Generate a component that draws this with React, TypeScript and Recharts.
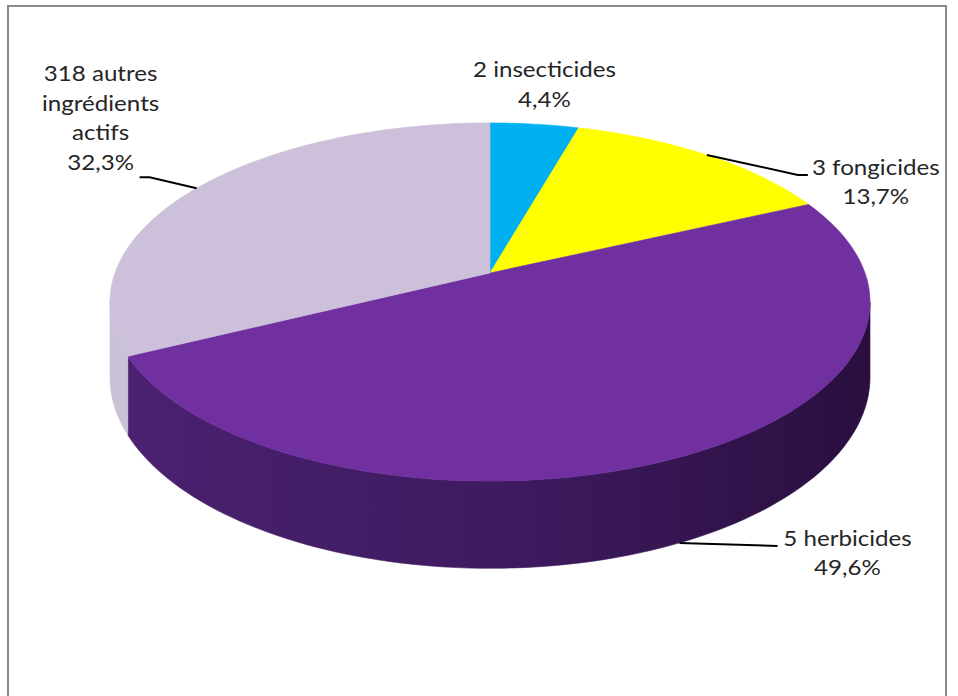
import React from 'react';
import { PieChart, Pie, Cell } from 'recharts';

const CATEGORIES = ['2 insecticides', '3 fongicides', '5 herbicides', '318 autres ingrédients actifs'];
const LABEL_LINES = [['2 insecticides'], ['3 fongicides'], ['5 herbicides'], ['318 autres', 'ingrédients', 'actifs']];
const SHARES = [4.4, 13.7, 49.6, 32.3];

const TOP_COLORS = ['#00B0F0', '#FFFF00', '#7030A0', '#CCC0DA'];
const SIDE_COLORS = [
  ['#0090c4', '#0090c4', '#006d95'],
  ['#cfcf00', '#cfcf00', '#a0a000'],
  ['#4b2171', '#3d1a5e', '#2a0f40'],
  ['#c9c1d6', '#c4bcd1', '#b5acc4'],
];

// fake perspective for the tilted disc
const TILT = 0.162;
const SQUASH = 0.465;
const DEPTH = 0.195;
const RIM = (Math.asin(TILT) * 180) / Math.PI;

// leader line points and text position, relative to the rim point at the slice middle
const LABEL_LAYOUT = [
  { line: [] as number[][], text: [10, -47] },
  { line: [[91, 20], [101, 20]], text: [169, 20] },
  { line: [[98, 3]], text: [168, 3] },
  { line: [[-47, -11], [-57, -11]], text: [-96, -107] },
];

const FONT = 'Lato, "Open Sans", sans-serif';
const FONT_SIZE = 21;
const STRETCH = 1.15;
const LINE_H = 29.5;

const rimPoint = (cx: number, cy: number, r: number, deg: number, drop = false) => {
  const t = (deg * Math.PI) / 180;
  const w = 1 + TILT * Math.sin(t);
  const x = cx + (r * Math.cos(t)) / w;
  const y = cy - (r * SQUASH * Math.sin(t)) / w + (drop ? (r * DEPTH) / w : 0);
  return [x, y];
};

const arcPoints = (cx: number, cy: number, r: number, from: number, to: number, drop = false) => {
  const n = Math.max(2, Math.ceil(Math.abs(from - to) / 1.5));
  const pts: number[][] = [];
  for (let i = 0; i <= n; i++) pts.push(rimPoint(cx, cy, r, from + ((to - from) * i) / n, drop));
  return pts;
};

const Slice3D = (props: any) => {
  const { cx, cy, outerRadius: r, startAngle, endAngle } = props;
  let idx = CATEGORIES.indexOf(props.payload?.name ?? props.name);
  if (idx < 0) idx = props.index ?? 0;
  const hi = Math.max(startAngle, endAngle);
  const lo = Math.min(startAngle, endAngle);

  const top = arcPoints(cx, cy, r, hi, lo);
  const topPath = `M${cx},${cy} ` + top.map((p) => `L${p[0].toFixed(1)},${p[1].toFixed(1)}`).join(' ') + ' Z';

  const sides: string[] = [];
  for (const shift of [-360, 0, 360]) {
    const a = Math.min(hi + shift, -RIM);
    const b = Math.max(lo + shift, -180 + RIM);
    if (a > b) {
      const upper = arcPoints(cx, cy, r, a, b);
      const lower = arcPoints(cx, cy, r, b, a, true);
      const pts = upper.concat(lower);
      sides.push('M' + pts.map((p) => `${p[0].toFixed(1)},${p[1].toFixed(1)}`).join(' L') + ' Z');
    }
  }
  const gid = `side-grad-${idx}`;
  const sc = SIDE_COLORS[idx];
  return (
    <g>
      <defs>
        <linearGradient id={gid} gradientUnits="userSpaceOnUse" x1={cx - r} y1={0} x2={cx + r} y2={0}>
          <stop offset="0%" stopColor={sc[0]} />
          <stop offset="55%" stopColor={sc[1]} />
          <stop offset="100%" stopColor={sc[2]} />
        </linearGradient>
      </defs>
      {sides.map((d, i) => (
        <path key={i} d={d} fill={`url(#${gid})`} stroke={`url(#${gid})`} strokeWidth={0.6} />
      ))}
      <path d={topPath} fill={TOP_COLORS[idx]} stroke={TOP_COLORS[idx]} strokeWidth={0.6} />
    </g>
  );
};

const renderLabel = (props: any) => {
  const { cx, cy, outerRadius: r, midAngle, value } = props;
  let idx = CATEGORIES.indexOf(props.payload?.name ?? props.name);
  if (idx < 0) idx = props.index ?? 0;
  const sinMid = Math.sin((midAngle * Math.PI) / 180);
  const [ex, ey] = rimPoint(cx, cy, r, midAngle, sinMid < -TILT);
  const layout = LABEL_LAYOUT[idx];
  const lines = [...LABEL_LINES[idx], `${Number(value).toFixed(1).replace('.', ',')}%`];
  const tx = ex + layout.text[0];
  const ty = ey + layout.text[1];
  return (
    <g key={`lbl-${idx}`}>
      {layout.line.length > 0 && (
        <polyline
          points={[[ex, ey], ...layout.line.map((p) => [ex + p[0], ey + p[1]])].map((p) => p.join(',')).join(' ')}
          fill="none"
          stroke="#000"
          strokeWidth={2}
        />
      )}
      <text
        transform={`translate(${tx.toFixed(1)},${ty.toFixed(1)}) scale(${STRETCH},1)`}
        x={0}
        y={0}
        textAnchor="middle"
        fontFamily={FONT}
        fontSize={FONT_SIZE}
        fill="#262626"
      >
        {lines.map((ln, i) => (
          <tspan key={i} x={0} y={i * LINE_H}>
            {ln}
          </tspan>
        ))}
      </text>
    </g>
  );
};

const pieData = CATEGORIES.map((name, i) => ({ name, value: SHARES[i] }));

export default function App() {
  return (
    <div style={{ position: 'absolute', left: 0, top: 0, width: 958, height: 696, overflow: 'hidden', background: '#fff' }}>
      <div
        style={{
          position: 'absolute',
          left: 7,
          top: 5,
          width: 940,
          height: 740,
          border: '2px solid #8a8a8a',
          boxSizing: 'border-box',
        }}
      />
      <div style={{ position: 'absolute', left: 0, top: 0 }}>
        <PieChart width={958} height={696} margin={{ top: 0, right: 0, bottom: 0, left: 0 }}>
          <Pie
            data={pieData}
            dataKey="value"
            nameKey="name"
            cx={490}
            cy={273}
            outerRadius={375}
            startAngle={90}
            endAngle={-270}
            paddingAngle={0}
            stroke="none"
            shape={Slice3D}
            label={renderLabel}
            labelLine={false}
            isAnimationActive={false}
          >
            {pieData.map((entry, i) => (
              <Cell key={entry.name} fill={TOP_COLORS[i]} />
            ))}
          </Pie>
        </PieChart>
      </div>
    </div>
  );
}
